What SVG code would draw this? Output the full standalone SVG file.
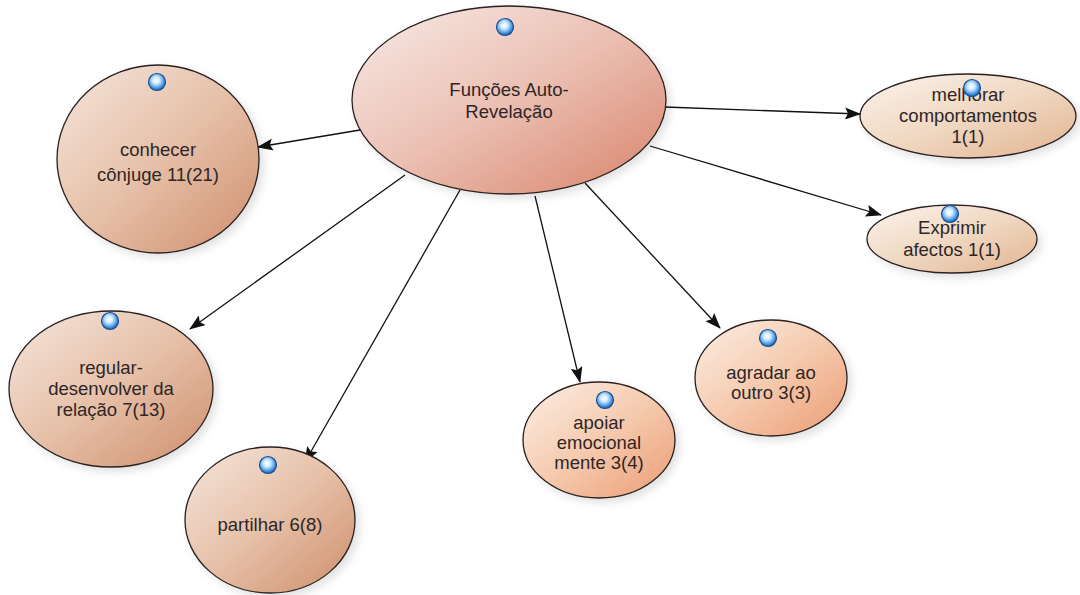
<svg xmlns="http://www.w3.org/2000/svg" width="1080" height="595" viewBox="0 0 1080 595">
<defs>
<style>
.node{stroke:#2a2020;stroke-width:1.3}
.t{font-family:"Liberation Sans",Arial,sans-serif;font-size:18.5px;fill:#2e2626;text-anchor:middle}
.c{stroke:#111;stroke-width:1.3;fill:none}
.dot{fill:url(#gDot);stroke:#1a4f92;stroke-width:1.2}
</style>
<linearGradient id="gMain" x1="0" y1="0" x2="1" y2="1">
<stop offset="0" stop-color="#f7ebe8"/><stop offset="0.5" stop-color="#ebbfb2"/><stop offset="1" stop-color="#d8836a"/>
</linearGradient>
<linearGradient id="gTan" x1="0" y1="0" x2="1" y2="1">
<stop offset="0" stop-color="#f5e6dd"/><stop offset="0.5" stop-color="#e6c0a8"/><stop offset="1" stop-color="#cf8e6c"/>
</linearGradient>
<linearGradient id="gLight" x1="0" y1="0" x2="1" y2="1">
<stop offset="0" stop-color="#fbf3ec"/><stop offset="0.5" stop-color="#f0d8c2"/><stop offset="1" stop-color="#e2b390"/>
</linearGradient>
<linearGradient id="gOrange" x1="0" y1="0" x2="1" y2="1">
<stop offset="0" stop-color="#fcefe6"/><stop offset="0.5" stop-color="#f5caae"/><stop offset="1" stop-color="#ec9c74"/>
</linearGradient>
<radialGradient id="gDot" cx="0.45" cy="0.4" r="0.6">
<stop offset="0" stop-color="#ffffff"/><stop offset="0.35" stop-color="#cfeaff"/><stop offset="0.8" stop-color="#3d8fdc"/><stop offset="1" stop-color="#1b5fae"/>
</radialGradient>
<filter id="sh" x="-20%" y="-20%" width="150%" height="150%">
<feDropShadow dx="4" dy="4" stdDeviation="4" flood-color="#000" flood-opacity="0.12"/>
</filter>
<marker id="ar" viewBox="0 0 16 12" refX="15" refY="6" markerWidth="16" markerHeight="12" markerUnits="userSpaceOnUse" orient="auto">
<path d="M0,0 L16,6 L0,12 L3,6 Z" fill="#111"/>
</marker>
</defs>
<rect width="1080" height="595" fill="#fff"/>
<g id="connectors">
<line class="c" x1="372" y1="128" x2="258" y2="147" marker-end="url(#ar)"/>
<line class="c" x1="665" y1="107" x2="860" y2="114" marker-end="url(#ar)"/>
<line class="c" x1="650" y1="146" x2="881" y2="215" marker-end="url(#ar)"/>
<line class="c" x1="405" y1="175" x2="190" y2="329" marker-end="url(#ar)"/>
<line class="c" x1="460" y1="190" x2="305" y2="462" marker-end="url(#ar)"/>
<line class="c" x1="535" y1="196" x2="580" y2="382" marker-end="url(#ar)"/>
<line class="c" x1="585" y1="183" x2="720" y2="328" marker-end="url(#ar)"/>
</g>
<g id="n-main">
<ellipse class="node" cx="509" cy="100" rx="157" ry="94" fill="url(#gMain)" filter="url(#sh)"/>
<circle class="dot" cx="505" cy="27" r="8.5"/>
<text class="t" x="509" y="96">Funções Auto-</text>
<text class="t" x="509" y="118">Revelação</text>
</g>
<g id="n-conhecer">
<ellipse class="node" cx="158" cy="159" rx="101" ry="94" fill="url(#gTan)" filter="url(#sh)"/>
<circle class="dot" cx="157" cy="82" r="8.5"/>
<text class="t" x="158" y="156">conhecer</text>
<text class="t" x="158" y="181">cônjuge 11(21)</text>
</g>
<g id="n-melhorar">
<ellipse class="node" cx="968" cy="116" rx="108" ry="42" fill="url(#gLight)" filter="url(#sh)"/>
<text class="t" x="968" y="101">melhorar</text>
<text class="t" x="968" y="122">comportamentos</text>
<text class="t" x="968" y="143">1(1)</text>
<circle class="dot" cx="972" cy="88" r="8.5"/>
</g>
<g id="n-exprimir">
<ellipse class="node" cx="952" cy="239" rx="85" ry="34" fill="url(#gLight)" filter="url(#sh)"/>
<text class="t" x="952" y="234">Exprimir</text>
<text class="t" x="952" y="256">afectos 1(1)</text>
<circle class="dot" cx="950" cy="214" r="8.5"/>
</g>
<g id="n-regular">
<ellipse class="node" cx="111" cy="389" rx="102" ry="78" fill="url(#gTan)" filter="url(#sh)"/>
<circle class="dot" cx="110" cy="321" r="8.5"/>
<text class="t" x="111" y="374">regular-</text>
<text class="t" x="111" y="395">desenvolver da</text>
<text class="t" x="111" y="416">relação 7(13)</text>
</g>
<g id="n-partilhar">
<ellipse class="node" cx="270" cy="520" rx="85" ry="73" fill="url(#gTan)" filter="url(#sh)"/>
<circle class="dot" cx="268" cy="465" r="8.5"/>
<text class="t" x="270" y="531">partilhar 6(8)</text>
</g>
<g id="n-apoiar">
<ellipse class="node" cx="599" cy="440" rx="76" ry="58" fill="url(#gOrange)" filter="url(#sh)"/>
<circle class="dot" cx="605" cy="400" r="8.5"/>
<text class="t" x="599" y="429">apoiar</text>
<text class="t" x="599" y="449">emocional</text>
<text class="t" x="599" y="469">mente 3(4)</text>
</g>
<g id="n-agradar">
<ellipse class="node" cx="771" cy="378" rx="76" ry="58" fill="url(#gOrange)" filter="url(#sh)"/>
<circle class="dot" cx="768" cy="338" r="8.5"/>
<text class="t" x="771" y="379">agradar ao</text>
<text class="t" x="771" y="399">outro 3(3)</text>
</g>
</svg>
